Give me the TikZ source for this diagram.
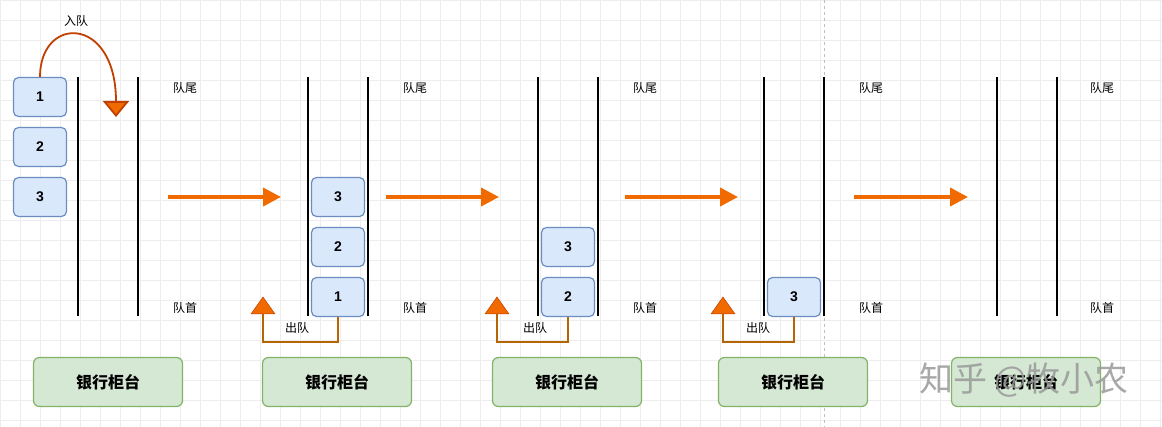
\documentclass[tikz,border=0pt]{standalone}
\usepackage{fontspec}
\setmainfont{Liberation Sans}
\newfontfamily\cjk{Noto Sans CJK SC}
\usetikzlibrary{arrows.meta}
\definecolor{qfill}{HTML}{DAE8FC}\definecolor{qdraw}{HTML}{6C8EBF}
\definecolor{bfill}{HTML}{D5E8D4}\definecolor{bdraw}{HTML}{82B366}
\definecolor{org}{HTML}{F06A00}\definecolor{orgd}{HTML}{C04000}
\definecolor{brn}{HTML}{B46504}
\begin{document}
\begin{tikzpicture}[x=1pt,y=-1pt,
 item/.style={draw=qdraw,fill=qfill,rounded corners=5pt,line width=1.2pt,minimum width=53pt,minimum height=39pt,font=\bfseries\fontsize{14}{14}\selectfont,inner sep=0},
 bank/.style={draw=bdraw,fill=bfill,rounded corners=6pt,line width=1.2pt,minimum width=149pt,minimum height=49pt,font=\cjk\bfseries\fontsize{16}{16}\selectfont,inner sep=0},
 lbl/.style={font=\cjk\fontsize{12}{12}\selectfont,inner sep=0},
 wall/.style={line width=1.6pt,black},
 big/.style={line width=4pt,draw=org,-{Triangle[length=18pt,width=18pt]}},
 tri/.style={fill=org,draw=orgd,line width=0.5pt},
 outp/.style={draw=brn,line width=1.5pt}]
\useasboundingbox (0,0) rectangle (1162,427);
\fill[white] (0,0) rectangle (1162,427);
\draw[black!7,step=20pt,line width=0.5pt] (0,0) grid (1162,427);
\draw[black!25,dashed,line width=0.6pt] (824,0) -- (824,427);
% stage 1
\node[item] (a1) at (40,97) {1};
\node[item] (a2) at (40,147) {2};
\node[item] (a3) at (40,197) {3};
\foreach \x/\n in {78/w1a,138/w1b,308/w2a,368/w2b,538/w3a,598/w3b,764/w4a,824/w4b,997/w5a,1057/w5b}
 {\coordinate (\n t) at (\x,77); \coordinate (\n b) at (\x,316); \draw[wall] (\n t) -- (\n b);}
\coordinate (enq) at (116,117);
\draw[orgd,line width=1.8pt,-{Triangle[length=16pt,width=26pt,fill=org]}] (a1.north) .. controls (40,15) and (116,15) .. (enq);
\node[lbl] (enqlbl) at (76,21) {入队};
\foreach \x/\n in {185/1,415/2,645/3,871/4,1102/5}{
 \node[lbl] (tail\n) at (\x,88) {队尾};
 \node[lbl] (head\n) at (\x,308) {队首};}
% arrows between stages
\coordinate (p1) at (168,197); \coordinate (q1) at (281,197);
\coordinate (p2) at (386,197); \coordinate (q2) at (499,197);
\coordinate (p3) at (625,197); \coordinate (q3) at (738,197);
\coordinate (p4) at (854,197); \coordinate (q4) at (968,197);
\foreach \i in {1,...,4} \draw[big] (p\i) -- (q\i);
% stage 2
\node[item] (b3) at (338,197) {3};
\node[item] (b2) at (338,247) {2};
\node[item] (b1) at (338,297) {1};
% stage 3
\node[item] (c3) at (568,247) {3};
\node[item] (c2) at (568,297) {2};
% stage 4
\node[item] (d3) at (794,297) {3};
% exit paths
\foreach \s/\x/\tx/\lx in {b1/338/263/297, c2/568/497/535, d3/794/723/758}{
 \draw[outp] (\s.south) -- (\x,342) -- (\tx,342) -- (\tx,313);
 \filldraw[tri] (\tx-12,314) -- (\tx+12,314) -- (\tx,297) -- cycle;
 \node[lbl] at (\lx,328) {出队};}
% banks
\node[bank] (k1) at (108,382) {银行柜台};
\node[bank] (k2) at (337,382) {银行柜台};
\node[bank] (k3) at (567,382) {银行柜台};
\node[bank] (k4) at (793,382) {银行柜台};
\node[bank] (k5) at (1026,382) {银行柜台};
\node[font=\cjk\fontsize{34}{34}\selectfont,text=black!40,opacity=0.85,inner sep=0] (wm) at (1024,380) {知乎 @牧小农};
\end{tikzpicture}
\end{document}
